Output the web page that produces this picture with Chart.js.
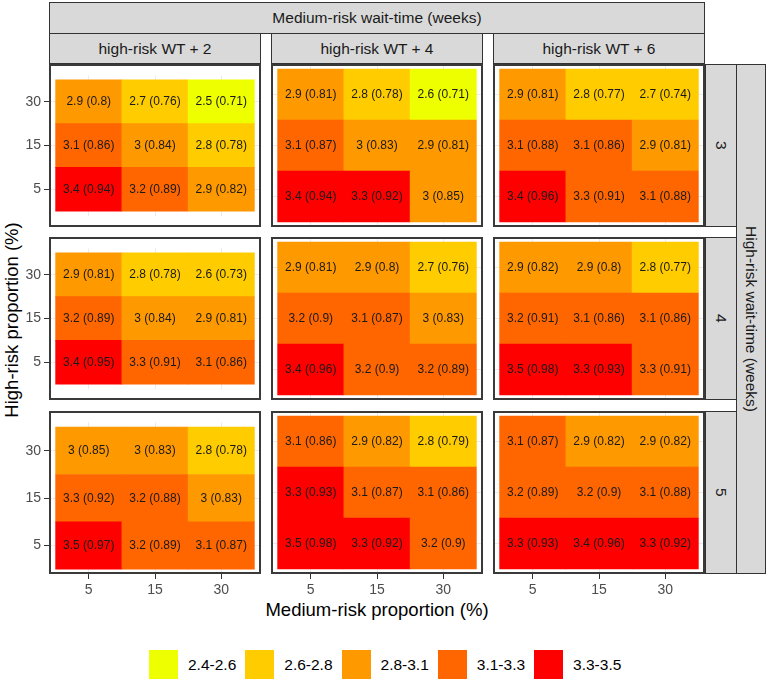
<!DOCTYPE html>
<html>
<head>
<meta charset="utf-8">
<script src="https://cdn.jsdelivr.net/npm/chart.js@4.4.1/dist/chart.umd.min.js"></script>
<style>
html,body{margin:0;padding:0;background:#fff;}
#root{position:relative;width:767px;height:681px;overflow:hidden;font-family:"Liberation Sans",Arial,sans-serif;}
.strip{position:absolute;box-sizing:border-box;background:#D9D9D9;border:1px solid #333;color:#1A1A1A;font-size:15.5px;display:flex;align-items:center;justify-content:center;white-space:nowrap;}
.strip.vert span{writing-mode:vertical-rl;}
.pborder{position:absolute;box-sizing:border-box;border:2px solid #3a3a3a;pointer-events:none;}
canvas{position:absolute;}
.title{position:absolute;color:#000;font-size:18.5px;white-space:nowrap;}
#legend{position:absolute;left:149px;top:650px;display:flex;align-items:center;}
#legend .item{display:flex;align-items:center;margin-right:9px;}
#legend .sw{width:29px;height:29px;}
#legend .lab{margin-left:10px;font-size:15.5px;color:#000;}
</style>
</head>
<body>
<div id="root"></div>
<script>
// ---------- data ----------
const COL_FACETS = ['high-risk WT + 2', 'high-risk WT + 4', 'high-risk WT + 6']; // medium-risk wait-time
const ROW_FACETS = ['3', '4', '5'];                                              // high-risk wait-time
const MED_PROP = ['5', '15', '30'];   // x ticks
const HIGH_PROP = ['5', '15', '30'];  // y ticks
const BINS = ['2.4-2.6', '2.6-2.8', '2.8-3.1', '3.1-3.3', '3.3-3.5'];
const BIN_COLORS = ['#EEFF00', '#FFCC00', '#FF9900', '#FF6600', '#FF0000'];

// panel order: [WT+2, WT+4, WT+6]; rows inside panel: high prop 5, 15, 30; columns: medium prop 5, 15, 30
const MEAN_HR3 = [
  [[3.4,3.2,2.9],[3.1,3,2.8],[2.9,2.7,2.5]],
  [[3.4,3.3,3],[3.1,3,2.9],[2.9,2.8,2.6]],
  [[3.4,3.3,3.1],[3.1,3.1,2.9],[2.9,2.8,2.7]]
];
const SD_HR3 = [
  [[0.94,0.89,0.82],[0.86,0.84,0.78],[0.8,0.76,0.71]],
  [[0.94,0.92,0.85],[0.87,0.83,0.81],[0.81,0.78,0.71]],
  [[0.96,0.91,0.88],[0.88,0.86,0.81],[0.81,0.77,0.74]]
];
const BIN_HR3 = [
  [[4,3,2],[3,2,1],[2,1,0]],
  [[4,4,2],[3,2,2],[2,1,0]],
  [[4,3,3],[3,3,2],[2,1,1]]
];
const MEAN_HR4 = [
  [[3.4,3.3,3.1],[3.2,3,2.9],[2.9,2.8,2.6]],
  [[3.4,3.2,3.2],[3.2,3.1,3],[2.9,2.9,2.7]],
  [[3.5,3.3,3.3],[3.2,3.1,3.1],[2.9,2.9,2.8]]
];
const SD_HR4 = [
  [[0.95,0.91,0.86],[0.89,0.84,0.81],[0.81,0.78,0.73]],
  [[0.96,0.9,0.89],[0.9,0.87,0.83],[0.81,0.8,0.76]],
  [[0.98,0.93,0.91],[0.91,0.86,0.86],[0.82,0.8,0.77]]
];
const BIN_HR4 = [
  [[4,3,3],[3,2,2],[2,1,1]],
  [[4,3,3],[3,3,2],[2,2,1]],
  [[4,4,3],[3,3,3],[2,2,1]]
];
const MEAN_HR5 = [
  [[3.5,3.2,3.1],[3.3,3.2,3],[3,3,2.8]],
  [[3.5,3.3,3.2],[3.3,3.1,3.1],[3.1,2.9,2.8]],
  [[3.3,3.4,3.3],[3.2,3.2,3.1],[3.1,2.9,2.9]]
];
const SD_HR5 = [
  [[0.97,0.89,0.87],[0.92,0.88,0.83],[0.85,0.83,0.78]],
  [[0.98,0.92,0.9],[0.93,0.87,0.86],[0.86,0.82,0.79]],
  [[0.93,0.96,0.92],[0.89,0.9,0.88],[0.87,0.82,0.82]]
];
const BIN_HR5 = [
  [[4,3,3],[3,3,2],[2,2,1]],
  [[4,4,3],[4,3,3],[3,2,1]],
  [[4,4,4],[3,3,3],[3,2,2]]
];
const MEANS = [MEAN_HR3, MEAN_HR4, MEAN_HR5];
const SDS = [SD_HR3, SD_HR4, SD_HR5];
const BINS_IDX = [BIN_HR3, BIN_HR4, BIN_HR5];

// ---------- layout ----------
const FONT = '"Liberation Sans", Arial, sans-serif';
const PANEL_X = [49, 271, 493], PANEL_W = 212;
const PANEL_Y = [64, 237, 411], PANEL_H = 163;
const AX_EXTRA = 30;
const root = document.getElementById('root');

function addDiv(cls, style, html) {
  const d = document.createElement('div');
  d.className = cls;
  Object.assign(d.style, style);
  if (html !== undefined) d.innerHTML = html;
  root.appendChild(d);
  return d;
}

// strips
addDiv('strip', {left:'49px', top:'2px', width:'656px', height:'32px'}, '<span>Medium-risk wait-time (weeks)</span>');
COL_FACETS.forEach((t, c) => addDiv('strip', {left:PANEL_X[c]+'px', top:'33px', width:PANEL_W+'px', height:'31px'}, '<span>'+t+'</span>'));
ROW_FACETS.forEach((t, r) => addDiv('strip vert', {left:'705px', top:PANEL_Y[r]+'px', width:'32px', height:PANEL_H+'px'}, '<span>'+t+'</span>'));
addDiv('strip vert', {left:'736px', top:'64px', width:'30px', height:'510px'}, '<span>High-risk wait-time (weeks)</span>');

// axis titles
addDiv('title', {left:'377px', top:'610px', transform:'translate(-50%,-50%)'}, 'Medium-risk proportion (%)');
addDiv('title', {left:'12px', top:'320px', transform:'translate(-50%,-50%) rotate(-90deg)'}, 'High-risk proportion (%)');

// legend
const leg = addDiv('', {}, '');
leg.id = 'legend';
BINS.forEach((b, i) => {
  const it = document.createElement('div');
  it.className = 'item';
  it.innerHTML = '<div class="sw" style="background:'+BIN_COLORS[i]+'"></div><div class="lab">'+b+'</div>';
  leg.appendChild(it);
});

const cellLabels = {
  id: 'cellLabels',
  afterDatasetsDraw(chart) {
    const ctx = chart.ctx;
    ctx.save();
    ctx.font = '12px ' + FONT;
    ctx.fillStyle = '#1A1A1A';
    ctx.textAlign = 'center';
    ctx.textBaseline = 'middle';
    chart.data.datasets.forEach((ds, di) => {
      chart.getDatasetMeta(di).data.forEach((el, i) => {
        ctx.fillText(ds.cellText[i], el.x, (el.y + el.base) / 2);
      });
    });
    ctx.restore();
  }
};

for (let r = 0; r < 3; r++) {
  for (let c = 0; c < 3; c++) {
    const leftExtra = c === 0 ? AX_EXTRA : 0;
    const bottomExtra = r === 2 ? AX_EXTRA : 0;
    const cv = document.createElement('canvas');
    cv.width = PANEL_W + leftExtra;
    cv.height = PANEL_H + bottomExtra;
    cv.style.left = (PANEL_X[c] - leftExtra) + 'px';
    cv.style.top = PANEL_Y[r] + 'px';
    cv.style.width = cv.width + 'px';
    cv.style.height = cv.height + 'px';
    root.appendChild(cv);
    addDiv('pborder', {left:PANEL_X[c]+'px', top:PANEL_Y[r]+'px', width:PANEL_W+'px', height:PANEL_H+'px'});

    const mean = MEANS[r][c], sd = SDS[r][c], bin = BINS_IDX[r][c];
    const datasets = HIGH_PROP.map((hp, yi) => ({
      data: MED_PROP.map((mp, xi) => ({x: xi, y: [yi - 0.5, yi + 0.5]})),
      backgroundColor: bin[yi].map(b => BIN_COLORS[b]),
      cellText: mean[yi].map((m, xi) => m + ' (' + sd[yi][xi] + ')'),
      borderWidth: 0
    }));

    new Chart(cv, {
      type: 'bar',
      data: {datasets},
      plugins: [cellLabels],
      options: {
        responsive: false,
        animation: false,
        events: [],
        layout: {padding: 0},
        datasets: {bar: {grouped: false, categoryPercentage: 1, barPercentage: 1}},
        plugins: {legend: {display: false}, tooltip: {enabled: false}},
        scales: {
          x: {
            type: 'linear', min: -0.6, max: 2.6, offset: false,
            border: {display: false},
            grid: {color: '#EBEBEB', lineWidth: 1, offset: false, drawTicks: r === 2, tickLength: 5, tickColor: '#333', tickWidth: 1},
            ticks: {display: r === 2, color: '#4D4D4D', font: {size: 14, family: FONT}, padding: 3, maxRotation: 0, autoSkip: false,
                    callback: v => MED_PROP[v]},
            afterBuildTicks: s => { s.ticks = MED_PROP.map((_, i) => ({value: i})); },
            afterFit: s => { s.height = bottomExtra; }
          },
          y: {
            type: 'linear', min: -0.6, max: 2.6,
            border: {display: false},
            grid: {color: '#EBEBEB', lineWidth: 1, drawTicks: c === 0, tickLength: 5, tickColor: '#333', tickWidth: 1},
            ticks: {display: c === 0, color: '#4D4D4D', font: {size: 14, family: FONT}, padding: 3, autoSkip: false,
                    callback: v => HIGH_PROP[v]},
            afterBuildTicks: s => { s.ticks = HIGH_PROP.map((_, i) => ({value: i})); },
            afterFit: s => { s.width = leftExtra; }
          }
        }
      }
    });
  }
}
</script>
</body>
</html>
